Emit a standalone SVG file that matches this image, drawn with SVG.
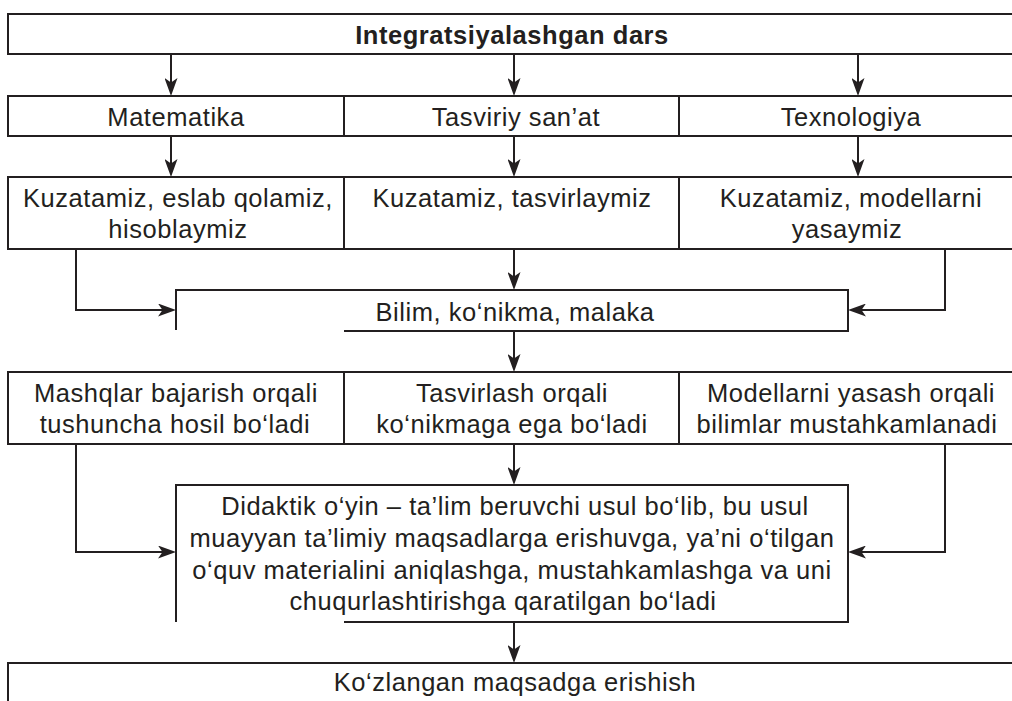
<svg xmlns="http://www.w3.org/2000/svg" width="1012" height="701" viewBox="0 0 1012 701">
<style>
.b{fill:none;stroke:#231f20;stroke-width:2}
.c{fill:none;stroke:#231f20;stroke-width:2;marker-end:url(#ah)}
text{font-family:"Liberation Sans",Arial,sans-serif;font-size:25.5px;fill:#231f20;text-anchor:middle;letter-spacing:0.55px}
.bold{font-weight:bold}
</style>
<defs>
<marker id="ah" markerUnits="userSpaceOnUse" viewBox="0 0 18 13" markerWidth="18" markerHeight="13" refX="8" refY="6.5" orient="auto">
<path d="M0,0 L18,6.5 L0,13 L4.5,6.5 Z" fill="#231f20"/>
</marker>
</defs>
<rect width="1012" height="701" fill="#ffffff"/>
<g id="n-top">
<rect class="b" x="8" y="14" width="1030" height="40"/>
<text class="bold" x="512" y="44">Integratsiyalashgan dars</text>
</g>
<g id="n-matematika">
<rect class="b" x="8" y="96" width="336" height="40"/>
<text x="176" y="126">Matematika</text>
</g>
<g id="n-tasviriy">
<rect class="b" x="344" y="96" width="335" height="40"/>
<text x="516" y="126">Tasviriy san’at</text>
</g>
<g id="n-texnologiya">
<rect class="b" x="679" y="96" width="360" height="40"/>
<text x="851" y="126">Texnologiya</text>
</g>
<g id="n-kuz1">
<rect class="b" x="8" y="177" width="336" height="72"/>
<text x="178" y="207">Kuzatamiz, eslab qolamiz,</text>
<text x="178" y="238">hisoblaymiz</text>
</g>
<g id="n-kuz2">
<rect class="b" x="344" y="177" width="335" height="72"/>
<text x="512" y="207">Kuzatamiz, tasvirlaymiz</text>
</g>
<g id="n-kuz3">
<rect class="b" x="679" y="177" width="360" height="72"/>
<text x="851" y="207">Kuzatamiz, modellarni</text>
<text x="847" y="238">yasaymiz</text>
</g>
<g id="n-bilim">
<path class="b" d="M176,330 V290 H848 V331 H344"/>
<text x="515" y="321">Bilim, ko‘nikma, malaka</text>
</g>
<g id="n-mashq">
<rect class="b" x="8" y="372" width="336" height="72"/>
<text x="176" y="402">Mashqlar bajarish orqali</text>
<text x="175" y="433">tushuncha hosil bo‘ladi</text>
</g>
<g id="n-tasvirlash">
<rect class="b" x="344" y="372" width="335" height="72"/>
<text x="512" y="402">Tasvirlash orqali</text>
<text x="512" y="433">ko‘nikmaga ega bo‘ladi</text>
</g>
<g id="n-modellar">
<rect class="b" x="679" y="372" width="360" height="72"/>
<text x="851" y="402">Modellarni yasash orqali</text>
<text x="847" y="433">bilimlar mustahkamlanadi</text>
</g>
<g id="n-didaktik">
<path class="b" d="M176,622 V485 H848 V622 H344"/>
<text x="515" y="515">Didaktik o‘yin – ta’lim beruvchi usul bo‘lib, bu usul</text>
<text x="512" y="547">muayyan ta’limiy maqsadlarga erishuvga, ya’ni o‘tilgan</text>
<text x="512" y="579">o‘quv materialini aniqlashga, mustahkamlashga va uni</text>
<text x="503" y="610">chuqurlashtirishga qaratilgan bo‘ladi</text>
</g>
<g id="n-bottom">
<rect class="b" x="8" y="663" width="1030" height="60"/>
<text x="515" y="691">Ko‘zlangan maqsadga erishish</text>
</g>
<g id="connectors">
<path class="c" d="M171,54 V86"/>
<path class="c" d="M514,54 V86"/>
<path class="c" d="M858,54 V86"/>
<path class="c" d="M171,136 V167"/>
<path class="c" d="M514,136 V167"/>
<path class="c" d="M858,136 V167"/>
<path class="c" d="M76,249 V310 H166"/>
<path class="c" d="M514,249 V280"/>
<path class="c" d="M945,249 V310 H858"/>
<path class="c" d="M514,331 V362"/>
<path class="c" d="M76,444 V552 H166"/>
<path class="c" d="M514,444 V475"/>
<path class="c" d="M945,444 V552 H858"/>
<path class="c" d="M514,622 V653"/>
</g>
</svg>
